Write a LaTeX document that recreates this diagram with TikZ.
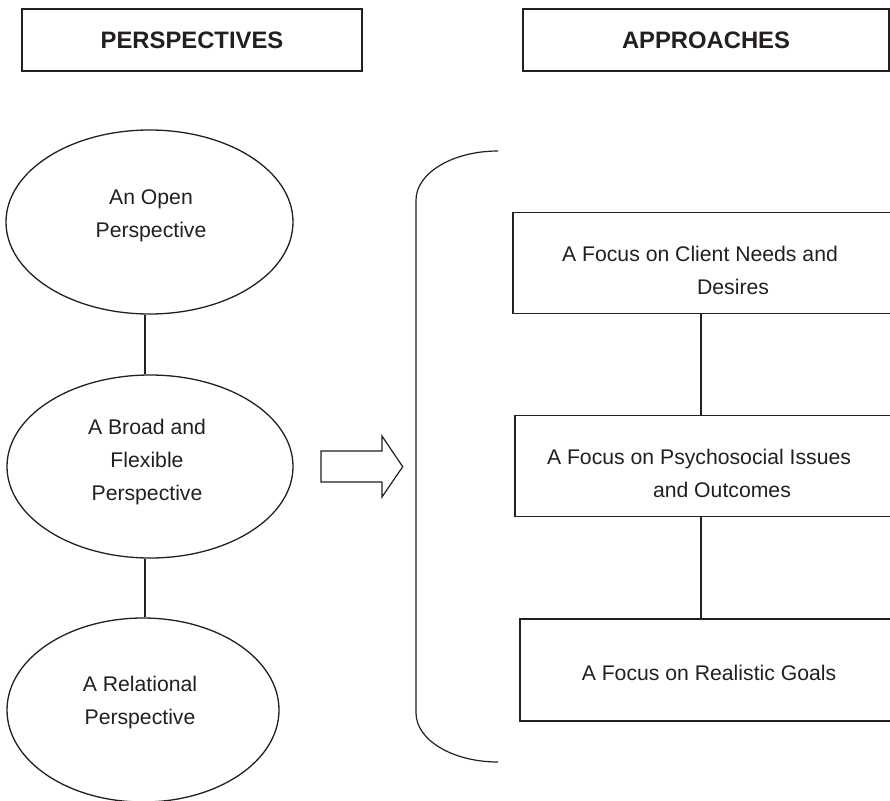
\documentclass[tikz,border=0pt]{standalone}
\usepackage{fontspec}
\setmainfont{Liberation Sans}
\usetikzlibrary{shapes.geometric}
\definecolor{ink}{HTML}{231F20}
\begin{document}
\begin{tikzpicture}[x=1pt,y=-1pt,
  hdr/.style={draw=ink, line width=1.3pt, inner sep=0pt, text=ink,
    font=\fontsize{23.8}{28}\selectfont\bfseries},
  boxx/.style={draw=ink, line width=1.3pt, inner sep=0pt, rectangle},
  oval/.style={draw=ink, line width=1.3pt, inner sep=0pt, ellipse},
  lbl/.style={inner sep=0pt, text=ink, font=\fontsize{21.2}{33}\selectfont},
  link/.style={line width=1.3pt, draw=ink},
  shapeline/.style={line width=1.2pt, draw=ink}]
\useasboundingbox (0,0) rectangle (890,800);

% headers
\node[hdr, minimum width=340pt, minimum height=62pt] (hp) at (192,40) {PERSPECTIVES};
\node[hdr, minimum width=366pt, minimum height=62pt] (ha) at (706,40) {APPROACHES};

% ellipses
\node[oval, minimum width=287pt, minimum height=184pt] (e1) at (149.5,222) {};
\node[oval, minimum width=286pt, minimum height=183pt] (e2) at (150,466.5) {};
\node[oval, minimum width=272pt, minimum height=184pt] (e3) at (143,710) {};
\node[lbl, align=center] (t1) at (151,215.5) {An Open\\Perspective};
\node[lbl, align=center] (t2) at (147,462) {A Broad and\\Flexible\\Perspective};
\node[lbl, align=center] (t3) at (140,703) {A Relational\\Perspective};

\coordinate (cl) at (145,0);
\draw[link] (cl |- e1.south) -- (cl |- e2.north);
\draw[link] (cl |- e2.south) -- (cl |- e3.north);

% block arrow
\draw[shapeline, line join=miter] (321,451) -- (382,451) -- (382,436) -- (402.7,466.7)
  -- (382,497) -- (382,482) -- (321,482) -- cycle;

% bracket
\draw[shapeline] (498,151) .. controls (452.7,151) and (416,173) .. (416,200)
  -- (416,713) .. controls (416,740) and (452.7,762) .. (498,762);

% approach boxes
\node[boxx, minimum width=382pt, minimum height=101.5pt] (b1) at (704,263) {};
\node[boxx, minimum width=380pt, minimum height=101.5pt] (b2) at (705,466) {};
\node[boxx, minimum width=375pt, minimum height=102pt] (b3) at (707.5,670) {};
\node[lbl, align=left] (s1) at (700,270) {A Focus on Client Needs and\\\hspace*{135pt}Desires};
\node[lbl, align=left] (s2) at (699,473) {A Focus on Psychosocial Issues\\\hspace*{106pt}and Outcomes};
\node[lbl] (s3) at (709,673) {A Focus on Realistic Goals};

\coordinate (cr) at (701,0);
\draw[link] (cr |- b1.south) -- (cr |- b2.north);
\draw[link] (cr |- b2.south) -- (cr |- b3.north);
\end{tikzpicture}
\end{document}
